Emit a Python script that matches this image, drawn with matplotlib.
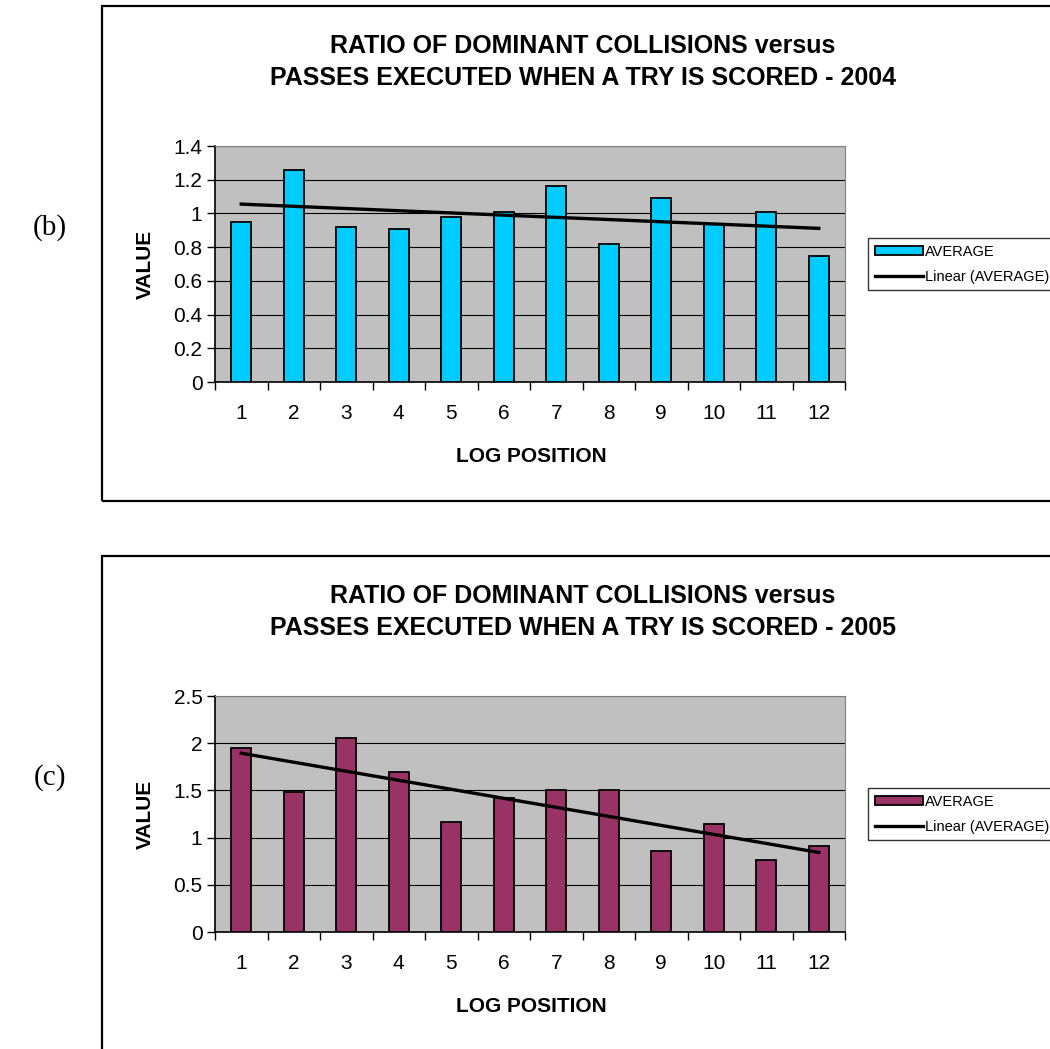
import numpy as np
import matplotlib
matplotlib.use("Agg")
import matplotlib.pyplot as plt
from matplotlib.patches import Rectangle

plt.rcParams['font.family'] = ['Liberation Sans', 'DejaVu Sans']

positions = [1, 2, 3, 4, 5, 6, 7, 8, 9, 10, 11, 12]
avg_2004 = [0.95, 1.26, 0.92, 0.91, 0.98, 1.01, 1.16, 0.82, 1.09, 0.94, 1.01, 0.75]
avg_2005 = [1.95, 1.48, 2.05, 1.69, 1.16, 1.42, 1.50, 1.50, 0.86, 1.14, 0.76, 0.91]

W, H = 1050, 1049
fig = plt.figure(figsize=(W / 100, H / 100), dpi=100)


def fx(x):
    return x / W


def fy(y):
    return 1 - y / H


def panel(values, year, color, top, tag, yticks, ymax):
    # outer frame (runs off the right side of the page)
    fig.patches.append(Rectangle((fx(102), fy(top + 495)), fx(1100), 495 / H,
                                 transform=fig.transFigure, fill=False,
                                 edgecolor='black', linewidth=1.6))
    fig.text(fx(50), fy(top + 222), tag, family='Liberation Serif', fontsize=21,
             ha='center', va='center')
    fig.text(fx(583), fy(top + 40), 'RATIO OF DOMINANT COLLISIONS versus',
             fontsize=18, fontweight='bold', ha='center', va='center')
    fig.text(fx(583), fy(top + 72), 'PASSES EXECUTED WHEN A TRY IS SCORED - ' + year,
             fontsize=18, fontweight='bold', ha='center', va='center')

    ax = fig.add_axes([fx(215), fy(top + 376), fx(630), 236 / H])
    ax.set_facecolor('#C0C0C0')
    ax.bar(positions, values, width=0.38, color=color, edgecolor='black',
           linewidth=1.3, zorder=3, label='AVERAGE')
    k, b = np.polyfit(positions, values, 1)
    xs = np.array([positions[0], positions[-1]])
    ax.plot(xs, k * xs + b, color='black', linewidth=2.4, zorder=4,
            label='Linear (AVERAGE)')

    ax.set_xlim(0.5, 12.5)
    ax.set_ylim(0, ymax)
    ax.set_yticks(yticks)
    ax.set_yticklabels([('%g' % t) for t in yticks])
    ax.set_xticks(positions)
    ax.set_xticks(np.arange(0.5, 13, 1), minor=True)
    ax.tick_params(axis='x', which='major', length=0, labelsize=15, pad=16)
    ax.tick_params(axis='x', which='minor', length=6, direction='out', width=1)
    ax.tick_params(axis='y', length=6, direction='out', width=1, labelsize=15, pad=3)
    ax.yaxis.grid(True, color='black', linewidth=0.8, zorder=1)
    ax.set_axisbelow(True)
    for s in ['top', 'right']:
        ax.spines[s].set_color('#808080')
    for s in ['left', 'bottom']:
        ax.spines[s].set_color('black')
        ax.spines[s].set_linewidth(1.2)

    fig.text(fx(531), fy(top + 450), 'LOG POSITION', fontsize=15,
             fontweight='bold', ha='center', va='center')
    fig.text(fx(145), fy(top + 258), 'VALUE', fontsize=15, fontweight='bold',
             rotation=90, ha='center', va='center')

    handles, labels = ax.get_legend_handles_labels()
    order = [labels.index('AVERAGE'), labels.index('Linear (AVERAGE)')]
    leg = ax.legend([handles[i] for i in order], [labels[i] for i in order],
                    loc='upper left', bbox_to_anchor=(fx(868), fy(top + 232)),
                    bbox_transform=fig.transFigure, fontsize=10.5, frameon=True,
                    fancybox=False, edgecolor='black', handlelength=3.3,
                    handleheight=0.55, borderaxespad=0, borderpad=0.45,
                    labelspacing=0.75, handletextpad=0.15)
    leg.get_frame().set_linewidth(1.0)
    return ax


panel(avg_2004, '2004', '#00CCFF', 6, '(b)', [0, 0.2, 0.4, 0.6, 0.8, 1, 1.2, 1.4], 1.4)
panel(avg_2005, '2005', '#993366', 556, '(c)', [0, 0.5, 1, 1.5, 2, 2.5], 2.5)

fig.savefig('out.png', dpi=100)
